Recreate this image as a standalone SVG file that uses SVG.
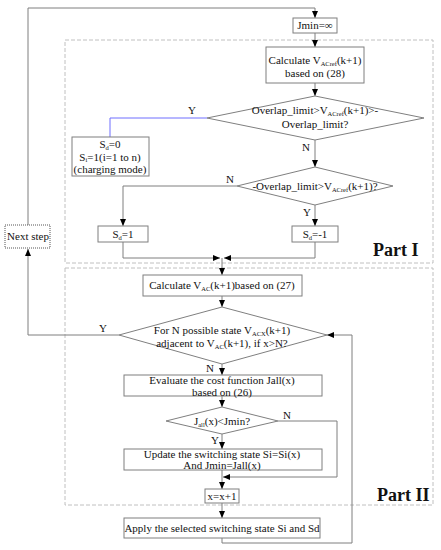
<svg xmlns="http://www.w3.org/2000/svg" width="441" height="550" viewBox="0 0 441 550">
<style>
text{font-family:"Liberation Serif","Times New Roman",serif;font-size:11px;fill:#111;text-anchor:middle}
.sub{font-size:6.5px}
.box{fill:#fff;stroke:#7f7f7f;stroke-width:1}
.dash{fill:none;stroke:#c0c0c0;stroke-width:1;stroke-dasharray:4,2}
.line{fill:none;stroke:#7f7f7f;stroke-width:1}
.blue{fill:none;stroke:#6f6fff;stroke-width:1}
.part{font-size:18px;font-weight:bold;text-anchor:start}
</style>
<defs>
<marker id="arr" markerWidth="8" markerHeight="8" refX="7" refY="3" orient="auto" markerUnits="userSpaceOnUse">
<path d="M0,0 L7,3 L0,6 Z" fill="#000"/>
</marker>
</defs>
<rect class="dash" x="65" y="40" width="368" height="223"/>
<rect class="dash" x="65" y="268" width="368" height="237"/>
<text class="part" x="373" y="256">Part I</text>
<text class="part" x="377" y="501">Part II</text>
<g id="connectors">
<path class="line" d="M119,335 H28 V249" marker-end="url(#arr)"/>
<path class="line" d="M28,225 V8 H315 V18" marker-end="url(#arr)"/>
<path class="line" d="M315,33 V47" marker-end="url(#arr)"/>
<path class="line" d="M315,83 V96" marker-end="url(#arr)"/>
<path class="blue" d="M207,118 H110 V137"/>
<path class="line" d="M315,140 V167" marker-end="url(#arr)"/>
<path class="line" d="M237,186 H123 V226" marker-end="url(#arr)"/>
<path class="line" d="M315,205 V226" marker-end="url(#arr)"/>
<path class="line" d="M123,242 V258 H220" marker-end="url(#arr)"/>
<path class="line" d="M315,242 V258 H224" marker-end="url(#arr)"/>
<path class="line" d="M222,258 V275" marker-end="url(#arr)"/>
<path class="line" d="M222,296 V307" marker-end="url(#arr)"/>
<path class="line" d="M222,364 V375" marker-end="url(#arr)"/>
<path class="line" d="M222,396 V407" marker-end="url(#arr)"/>
<path class="line" d="M222,434 V449" marker-end="url(#arr)"/>
<path class="line" d="M278,421 H337 V477 H223" marker-end="url(#arr)"/>
<path class="line" d="M222,470 V489" marker-end="url(#arr)"/>
<path class="line" d="M222,503 V518" marker-end="url(#arr)"/>
<path class="line" d="M222,538 V543 H352 V335 H327" marker-end="url(#arr)"/>
<text x="192" y="114">Y</text>
<text x="306" y="151">N</text>
<text x="230" y="183">N</text>
<text x="307" y="216">Y</text>
<text x="103" y="332">Y</text>
<text x="210" y="372">N</text>
<text x="287" y="419">N</text>
<text x="215" y="444">Y</text>
</g>
<g id="jmin">
<rect class="box" x="293" y="18" width="44" height="15"/>
<text x="315" y="29">Jmin=∞</text>
</g>
<g id="calc-ref">
<rect class="box" x="266" y="47" width="98" height="36"/>
<text x="315" y="64">Calculate V<tspan class="sub" dy="1.5">ACref</tspan><tspan dy="-1.5">(k+1)</tspan></text>
<text x="315" y="77">based on (28)</text>
</g>
<g id="dec1">
<polygon class="box" points="315,96 424,118 315,140 207,118"/>
<text x="315" y="114">Overlap_limit&gt;V<tspan class="sub" dy="1.5">ACref</tspan><tspan dy="-1.5">(k+1)&gt;-</tspan></text>
<text x="315" y="128">Overlap_limit?</text>
</g>
<g id="charging">
<rect class="box" x="72" y="137" width="77" height="39"/>
<text x="110" y="148">S<tspan class="sub" dy="1.5">d</tspan><tspan dy="-1.5">=0</tspan></text>
<text x="110" y="160.5">S<tspan class="sub" dy="1.5">i</tspan><tspan dy="-1.5">=1(i=1 to n)</tspan></text>
<text x="110" y="173">(charging mode)</text>
</g>
<g id="dec2">
<polygon class="box" points="315,167 393,186 315,205 237,186"/>
<text x="315" y="190">-Overlap_limit&gt;V<tspan class="sub" dy="1.5">ACref</tspan><tspan dy="-1.5">(k+1)?</tspan></text>
</g>
<g id="sd1">
<rect class="box" x="98" y="226" width="50" height="16"/>
<text x="123" y="238">S<tspan class="sub" dy="1.5">d</tspan><tspan dy="-1.5">=1</tspan></text>
</g>
<g id="sdm1">
<rect class="box" x="292" y="226" width="46" height="16"/>
<text x="315" y="238">S<tspan class="sub" dy="1.5">d</tspan><tspan dy="-1.5">=-1</tspan></text>
</g>
<g id="nextstep">
<rect x="5" y="225" width="45" height="23" fill="#fff" stroke="#555" stroke-width="1" stroke-dasharray="1,1"/>
<text x="28" y="240">Next step</text>
</g>
<g id="calc-vac">
<rect class="box" x="143" y="275" width="159" height="21"/>
<text x="222" y="289">Calculate V<tspan class="sub" dy="1.5">AC</tspan><tspan dy="-1.5">(k+1)based on (27)</tspan></text>
</g>
<g id="dec3">
<polygon class="box" points="222,307 327,335 222,364 119,335"/>
<text x="222" y="334">For N possible state V<tspan class="sub" dy="1.5">ACX</tspan><tspan dy="-1.5">(k+1)</tspan></text>
<text x="222" y="347">adjacent to V<tspan class="sub" dy="1.5">AC</tspan><tspan dy="-1.5">(k+1), if x&gt;N?</tspan></text>
</g>
<g id="evaluate">
<rect class="box" x="124" y="375" width="198" height="21"/>
<text x="222" y="384">Evaluate the cost function Jall(x)</text>
<text x="222" y="396">based on (26)</text>
</g>
<g id="dec4">
<polygon class="box" points="222,407 278,421 222,434 166,421"/>
<text x="222" y="425">J<tspan class="sub" dy="1.5">all</tspan><tspan dy="-1.5">(x)&lt;Jmin?</tspan></text>
</g>
<g id="update">
<rect class="box" x="124" y="449" width="198" height="21"/>
<text x="222" y="458">Update the switching state Si=Si(x)</text>
<text x="222" y="469">And Jmin=Jall(x)</text>
</g>
<g id="incr">
<rect class="box" x="205" y="489" width="34" height="14"/>
<text x="222" y="500">x=x+1</text>
</g>
<g id="apply">
<rect class="box" x="124" y="518" width="196" height="20"/>
<text x="222" y="532">Apply the selected switching state Si and Sd</text>
</g>
</svg>
